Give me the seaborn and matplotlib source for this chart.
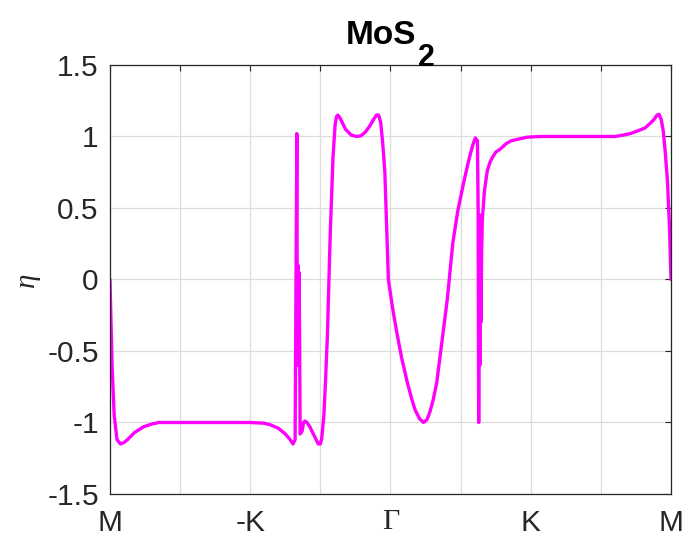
import matplotlib
matplotlib.use("Agg")
import matplotlib.pyplot as plt
import numpy as np
import pandas as pd
import seaborn as sns

# Path coordinate along M -> -K -> Gamma -> K -> M (one unit per grid step)
path_pos = [
    0.00, 0.01, 0.03, 0.06, 0.10, 0.15, 0.20, 0.25, 0.35, 0.48,
    0.60, 0.70, 1.00, 1.50, 2.00, 2.20, 2.28, 2.40, 2.50, 2.57,
    2.61, 2.64,
    2.665, 2.672, 2.680, 2.688, 2.695, 2.703, 2.712,
    2.74, 2.76, 2.78, 2.81, 2.85, 2.89, 2.93, 2.97, 3.00, 3.02,
    3.05, 3.07, 3.10, 3.14, 3.18, 3.21, 3.23, 3.25,
    3.28, 3.32, 3.36, 3.44, 3.52, 3.58, 3.64, 3.70, 3.76, 3.80,
    3.83, 3.86, 3.89, 3.92, 3.97,
    4.03, 4.09, 4.16, 4.24, 4.30, 4.35, 4.41, 4.47, 4.52, 4.56,
    4.61, 4.66, 4.73, 4.81, 4.89, 4.96, 5.04, 5.10, 5.14, 5.18,
    5.21, 5.24,
    5.250, 5.258, 5.266, 5.274, 5.282, 5.290, 5.300,
    5.31, 5.34, 5.38, 5.42, 5.45, 5.50, 5.56, 5.65, 5.72, 5.81,
    5.95, 6.13, 6.80, 7.20, 7.32, 7.42, 7.53, 7.63, 7.70, 7.76,
    7.80, 7.83, 7.86, 7.89, 7.92, 7.95, 7.98, 8.00,
]
eta = [
    0.00, -0.20, -0.60, -0.95, -1.12, -1.15, -1.14, -1.12, -1.07, -1.03,
    -1.01, -1.00, -1.00, -1.00, -1.00, -1.005, -1.015, -1.04, -1.08, -1.12,
    -1.15, -1.12,
    1.02, -0.60, 0.10, -0.60, 0.05, -0.30, -1.08,
    -1.06, -1.00, -0.99, -1.00, -1.03, -1.07, -1.11, -1.15, -1.15, -1.11,
    -0.95, -0.75, -0.40, 0.30, 0.85, 1.08, 1.14, 1.15,
    1.13, 1.09, 1.05, 1.01, 1.00, 1.005, 1.03, 1.07, 1.12, 1.15,
    1.15, 1.10, 0.95, 0.75, 0.00,
    -0.20, -0.37, -0.55, -0.72, -0.83, -0.91, -0.97, -1.00, -0.98, -0.93,
    -0.84, -0.72, -0.45, -0.14, 0.26, 0.48, 0.67, 0.80, 0.88, 0.95,
    0.99, 0.97,
    0.50, -1.00, 0.30, -0.60, 0.45, -0.30, 0.20,
    0.42, 0.62, 0.76, 0.82, 0.85, 0.89, 0.91, 0.95, 0.97, 0.98,
    0.995, 1.00, 1.00, 1.00, 1.01, 1.02, 1.04, 1.06, 1.09, 1.12,
    1.15, 1.155, 1.12, 1.04, 0.88, 0.69, 0.35, 0.00,
]

tick_pos = [0, 1, 2, 3, 4, 5, 6, 7, 8]
tick_labels = ["M", "", "-K", "", "Γ", "", "K", "", "M"]
eta_ticks = [-1.5, -1, -0.5, 0, 0.5, 1, 1.5]
eta_tick_labels = ["-1.5", "-1", "-0.5", "0", "0.5", "1", "1.5"]

sns.set_style("white")
plt.rcParams["font.family"] = ["Liberation Sans", "DejaVu Sans"]
plt.rcParams["axes.unicode_minus"] = False

fig = plt.figure(figsize=(6.86, 5.47), dpi=100)
ax = fig.add_axes([0.1603, 0.0969, 0.8178, 0.7843])

df = pd.DataFrame({"pos": path_pos, "eta": eta})
sns.lineplot(data=df, x="pos", y="eta", sort=False, estimator=None,
             color="#FF00FF", linewidth=2.4, ax=ax)
ax.lines[-1].set_solid_joinstyle("round")

ax.set_xlim(0, 8)
ax.set_ylim(-1.5, 1.5)
ax.set_xticks(tick_pos)
ax.set_xticklabels(tick_labels)
ax.set_yticks(eta_ticks)
ax.set_yticklabels(eta_tick_labels)
ax.grid(True, color="#dcdcdc", linewidth=0.9)
ax.set_axisbelow(True)

for sp in ax.spines.values():
    sp.set_visible(True)
    sp.set_color("#262626")
    sp.set_linewidth(0.9)

ax.tick_params(direction="in", length=4, width=0.8, top=True, right=True,
               labelsize=21.5, labelcolor="#262626", color="#262626")
ax.tick_params(axis="x", pad=11)
ax.tick_params(axis="y", pad=8)

# Gamma point in a serif face
for lab in ax.get_xticklabels():
    if lab.get_text() == "Γ":
        lab.set_fontfamily(["Liberation Serif", "DejaVu Serif"])

ax.set_xlabel("")
ax.set_ylabel("η", fontfamily=["Liberation Serif", "DejaVu Serif"],
              fontstyle="italic", fontsize=21, color="#262626")
ax.yaxis.set_label_coords(-0.125, 0.5)

# Title with a full-size lowered subscript
t = fig.text(346 / 686, 1 - 44 / 547, "MoS", fontsize=24, fontweight="bold",
             ha="left", va="baseline", color="black")
ax.annotate("2", xy=(1, 0), xycoords=t, xytext=(1, -15.5),
            textcoords="offset points", fontsize=22, fontweight="bold",
            ha="left", va="bottom", color="black", annotation_clip=False)

fig.savefig("out.png", dpi=100)
